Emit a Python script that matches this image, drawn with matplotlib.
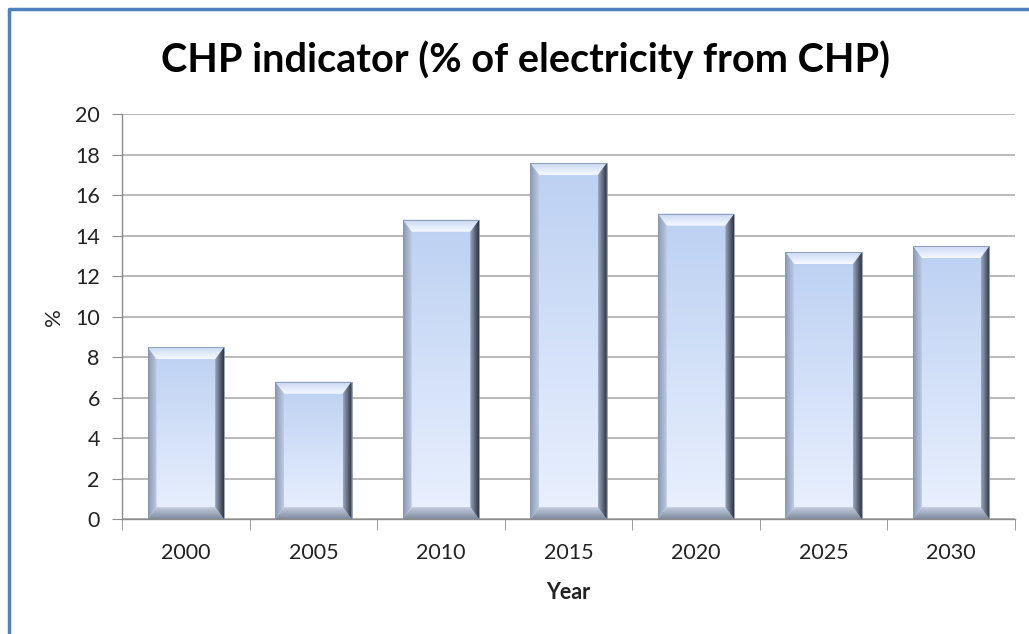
import numpy as np
import matplotlib
matplotlib.use('Agg')
import matplotlib.pyplot as plt
from matplotlib.colors import LinearSegmentedColormap
from matplotlib.patches import Polygon
from matplotlib.lines import Line2D

years = ['2000', '2005', '2010', '2015', '2020', '2025', '2030']
chp_share = [8.5, 6.8, 14.8, 17.6, 15.1, 13.2, 13.5]
y_ticks = [0, 2, 4, 6, 8, 10, 12, 14, 16, 18, 20]

plt.rcParams['font.family'] = ['Lato', 'DejaVu Sans']

fig = plt.figure(figsize=(10.29, 6.34), dpi=100)
ax = fig.add_axes([0.1186, 0.1809, 0.8678, 0.6388])

x = np.arange(len(years))
bars = ax.bar(x, chp_share, width=0.6, color='none', edgecolor='none', zorder=3)


def grad_fill(verts, extent, c0, c1, vertical=True, z=4):
    # gradient image clipped to a polygon; c0 -> c1 bottom->top or left->right
    poly = Polygon(verts, closed=True, facecolor='none', edgecolor='none')
    ax.add_patch(poly)
    g = np.linspace(0, 1, 128)
    arr = g.reshape(-1, 1) if vertical else g.reshape(1, -1)
    cmap = LinearSegmentedColormap.from_list('g', [c0, c1])
    im = ax.imshow(arr, extent=extent, cmap=cmap, aspect='auto',
                   origin='lower', zorder=z, interpolation='bilinear')
    im.set_clip_path(poly)


bx = 0.07   # bevel width in category units
by = 0.6    # bevel height in % units
for b in bars:
    x0 = b.get_x()
    x1 = x0 + b.get_width()
    h = b.get_height()
    # main face
    grad_fill([(x0, 0), (x1, 0), (x1, h), (x0, h)], [x0, x1, 0, h],
              '#eaf1fe', '#bcd0f2', z=4)
    # top bevel
    grad_fill([(x0, h), (x1, h), (x1 - bx, h - by), (x0 + bx, h - by)],
              [x0, x1, h - by, h], '#f6faff', '#c4d6f2', z=5)
    # bottom bevel
    grad_fill([(x0, 0), (x1, 0), (x1 - bx, by), (x0 + bx, by)],
              [x0, x1, 0, by], '#7f899c', '#c9d3e6', z=5)
    # left bevel
    grad_fill([(x0, 0), (x0 + bx, by), (x0 + bx, h - by), (x0, h)],
              [x0, x0 + bx, 0, h], '#8a97b0', '#bccbe6', vertical=False, z=5)
    # right bevel
    grad_fill([(x1, 0), (x1 - bx, by), (x1 - bx, h - by), (x1, h)],
              [x1 - bx, x1, 0, h], '#9aa8c2', '#2e3440', vertical=False, z=5)
    ax.add_patch(Polygon([(x0, 0), (x1, 0), (x1, h), (x0, h)], closed=True,
                         facecolor='none', edgecolor='#8594ae', lw=0.6, zorder=6))

ax.set_xlim(-0.5, len(years) - 0.5)
ax.set_ylim(0, 20)
ax.set_yticks(y_ticks)
ax.set_xticks(x)
ax.set_xticklabels(years)
ax.set_xticks(np.arange(len(years) + 1) - 0.5, minor=True)
ax.grid(axis='y', color='#a6a6a6', lw=1.1, zorder=1)
ax.set_axisbelow(True)

for s in ['top', 'right']:
    ax.spines[s].set_visible(False)
for s in ['left', 'bottom']:
    ax.spines[s].set_color('#8c8c8c')
    ax.spines[s].set_linewidth(1.0)

ax.tick_params(axis='y', length=7, color='#8c8c8c', labelsize=15.5, pad=9, labelcolor='#222222')
ax.tick_params(axis='x', which='major', length=0, labelsize=15.5, pad=17, labelcolor='#222222')
ax.tick_params(axis='x', which='minor', length=8, color='#8c8c8c')

ax.set_xlabel('Year', fontsize=15.5, fontweight='bold', labelpad=14, color='#222222')
ax.set_ylabel('%', fontsize=16, labelpad=8, color='#222222')

fig.text(0.511, 1 - 60 / 634, 'CHP indicator (% of electricity from CHP)',
         ha='center', va='center', fontsize=28.5, fontweight='bold', color='black')

# blue frame (left and top edges)
fig.add_artist(Line2D([9 / 1029, 9 / 1029, 1.0], [0.0, 1 - 9 / 634, 1 - 9 / 634],
                      transform=fig.transFigure, color='#4f81bd', lw=2.5))

fig.savefig('out.png', dpi=100)
